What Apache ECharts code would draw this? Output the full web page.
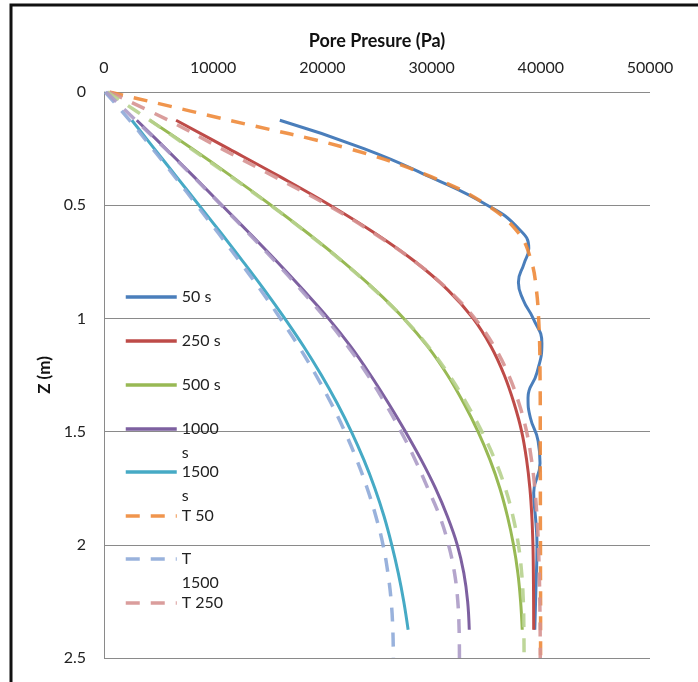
<!DOCTYPE html>
<html><head><meta charset="utf-8">
<script src="https://cdn.jsdelivr.net/npm/echarts@6/dist/echarts.min.js"></script>
<style>html,body{margin:0;padding:0;background:#fff}#c{width:698px;height:682px}</style>
</head><body><div id="c"></div><script>
// ---- data ----
const xTicks = [0, 10000, 20000, 30000, 40000, 50000];
const yTicks = [0, 0.5, 1, 1.5, 2, 2.5];
const zSolid = [0.125,0.25,0.375,0.5,0.625,0.75,0.875,1.0,1.125,1.25,1.375,1.5,1.625,1.75,1.875,2.0,2.125,2.25,2.375];
const zDashed = [0,0.125,0.25,0.375,0.5,0.625,0.75,0.875,1.0,1.125,1.25,1.375,1.5,1.625,1.75,1.875,2.0,2.125,2.25,2.375,2.5];
const z50 = [0.125,0.25,0.375,0.5,0.6,0.69,0.76,0.84,0.92,1.0,1.11,1.24,1.35,1.44,1.54,1.64,1.77,1.9,2.0,2.2,2.375];
const s50   = [16100,23800,29850,35100,37900,38900,38450,37950,38400,39300,40100,39650,38830,39050,39750,39930,39350,39550,39650,39550,39450];
const s250  = [6600,11400,16150,20700,24850,28500,31500,33800,35450,36650,37550,38250,38700,39000,39180,39280,39320,39340,39350];
const s500  = [4200,8050,11750,15300,18700,21900,24850,27450,29650,31450,32950,34250,35350,36250,36950,37500,37900,38150,38300];
const s1000 = [3000,5650,8250,10800,13350,15850,18250,20550,22600,24400,26050,27600,29050,30350,31450,32350,32950,33300,33450];
const s1500 = [2550,4600,6650,8700,10750,12750,14700,16550,18300,19900,21350,22650,23800,24800,25650,26350,26950,27450,27850];
const t50   = [500,11500,22400,30000,35100,38000,39150,39600,39800,39900,39930,39950,39950,39950,39960,39960,39970,39970,39980,39980,39980];
const t1500 = [100,2350,4450,6500,8500,10500,12450,14350,16150,17850,19400,20800,22050,23150,24100,24900,25550,26000,26300,26450,26500];
const t250  = [500,5900,10750,15650,20500,24750,28500,31550,33950,35750,37050,38000,38700,39150,39450,39650,39780,39860,39910,39940,39950];
const t500  = [300,4200,7950,11650,15250,18650,21850,24800,27450,29700,31600,33200,34600,35800,36750,37450,37950,38250,38400,38450,38470];
const t1000 = [200,2900,5600,8200,10750,13250,15700,18050,20300,22350,24150,25750,27200,28500,29650,30750,31550,32100,32400,32520,32550];

const legendNames  = ['50 s','250 s','500 s','1000 s','1500 s','T 50','T 1500','T 250'];
const legendLabels = ['50 s','250 s','500 s','1000\ns','1500\ns','T 50','T\n1500','T 250'];

// ---- chart ----
const FONT = 'Lato';
const pairs = (xs, zs) => xs.map((v, i) => [v, zs[i]]);
const DASH = [14, 11];
function solid(name, color, xs, zs, smooth) {
  return {name, type:'line', data: pairs(xs, zs), symbol:'none', smooth: smooth ?? 0.4, color,
    lineStyle:{color, width:3, type:'solid'}, z: 2};
}
function dashed(name, color, xs) {
  return {name, type:'line', data: pairs(xs, zDashed), symbol:'none', smooth: 0.4, color,
    lineStyle:{color, width:3.5, type:DASH, opacity:0.9}, z: 3};
}
const series = [
  solid('50 s', '#4A7EBB', s50, z50, 0.5),
  solid('250 s', '#BE4B48', s250, zSolid),
  solid('500 s', '#98B954', s500, zSolid),
  solid('1000 s', '#7D60A0', s1000, zSolid),
  solid('1500 s', '#46AAC5', s1500, zSolid),
  dashed('T 50', '#EE8A3A', t50),
  dashed('T 1500', '#8EAAD8', t1500),
  dashed('T 250', '#D69291', t250),
  dashed('T 500', '#B7D18E', t500),
  dashed('T 1000', '#AC9BC6', t1000)
];

const centers = [297, 341, 385, 429, 472, 516, 559, 603];
const L = 24;
const legends = legendNames.map((n, i) => {
  const wrapped = legendLabels[i].indexOf('\n') >= 0;
  // wrapped labels: a blank first line keeps the first text line level with the symbol
  const label = wrapped ? '\u00a0\n' + legendLabels[i] : legendLabels[i];
  return {
    show: true, orient: 'vertical', left: 124,
    top: centers[i] - (wrapped ? 1.5 * L : L / 2),
    padding: 0, itemWidth: 51, itemHeight: 14, itemGap: 0,
    selectedMode: false,
    data: [n],
    formatter: () => label,
    itemStyle: {opacity: 0},
    lineStyle: {width: 3.5},
    textStyle: {fontFamily: FONT, fontSize: 16, color: '#222', lineHeight: L}
  };
});

const option = {
  animation: false,
  backgroundColor: '#fff',
  textStyle: {fontFamily: FONT},
  grid: {left: 104, right: 48, top: 92, bottom: 24},
  legend: legends,
  xAxis: {
    type: 'value', position: 'top', min: xTicks[0], max: xTicks[xTicks.length-1], interval: xTicks[1]-xTicks[0],
    name: 'Pore Presure (Pa)', nameLocation: 'middle', nameGap: 42,
    nameTextStyle: {fontFamily: FONT, fontSize: 18, fontWeight: 'bold', color: '#111'},
    axisLine: {show: false}, axisTick: {show: false}, splitLine: {show: false},
    axisLabel: {fontFamily: FONT, fontSize: 16, color: '#222', margin: 16, formatter: v => String(v)}
  },
  yAxis: {
    type: 'value', inverse: true, min: yTicks[0], max: yTicks[yTicks.length-1], interval: yTicks[1]-yTicks[0],
    name: 'Z (m)', nameLocation: 'middle', nameGap: 51, nameRotate: 90,
    nameTextStyle: {fontFamily: FONT, fontSize: 17, fontWeight: 'bold', color: '#111'},
    axisLine: {show: true, lineStyle: {color: '#8a8a8a', width: 1}},
    axisTick: {show: false},
    splitLine: {show: true, lineStyle: {color: '#8a8a8a', width: 1}},
    axisLabel: {fontFamily: FONT, fontSize: 16, color: '#222', margin: 18, formatter: v => String(v)}
  },
  graphic: [{type: 'rect', silent: true, shape: {x: 11, y: 5, width: 760, height: 760},
    style: {fill: 'none', stroke: '#111', lineWidth: 3}}],
  series
};
const chart = echarts.init(document.getElementById('c'));
chart.setOption(option);
</script></body></html>
